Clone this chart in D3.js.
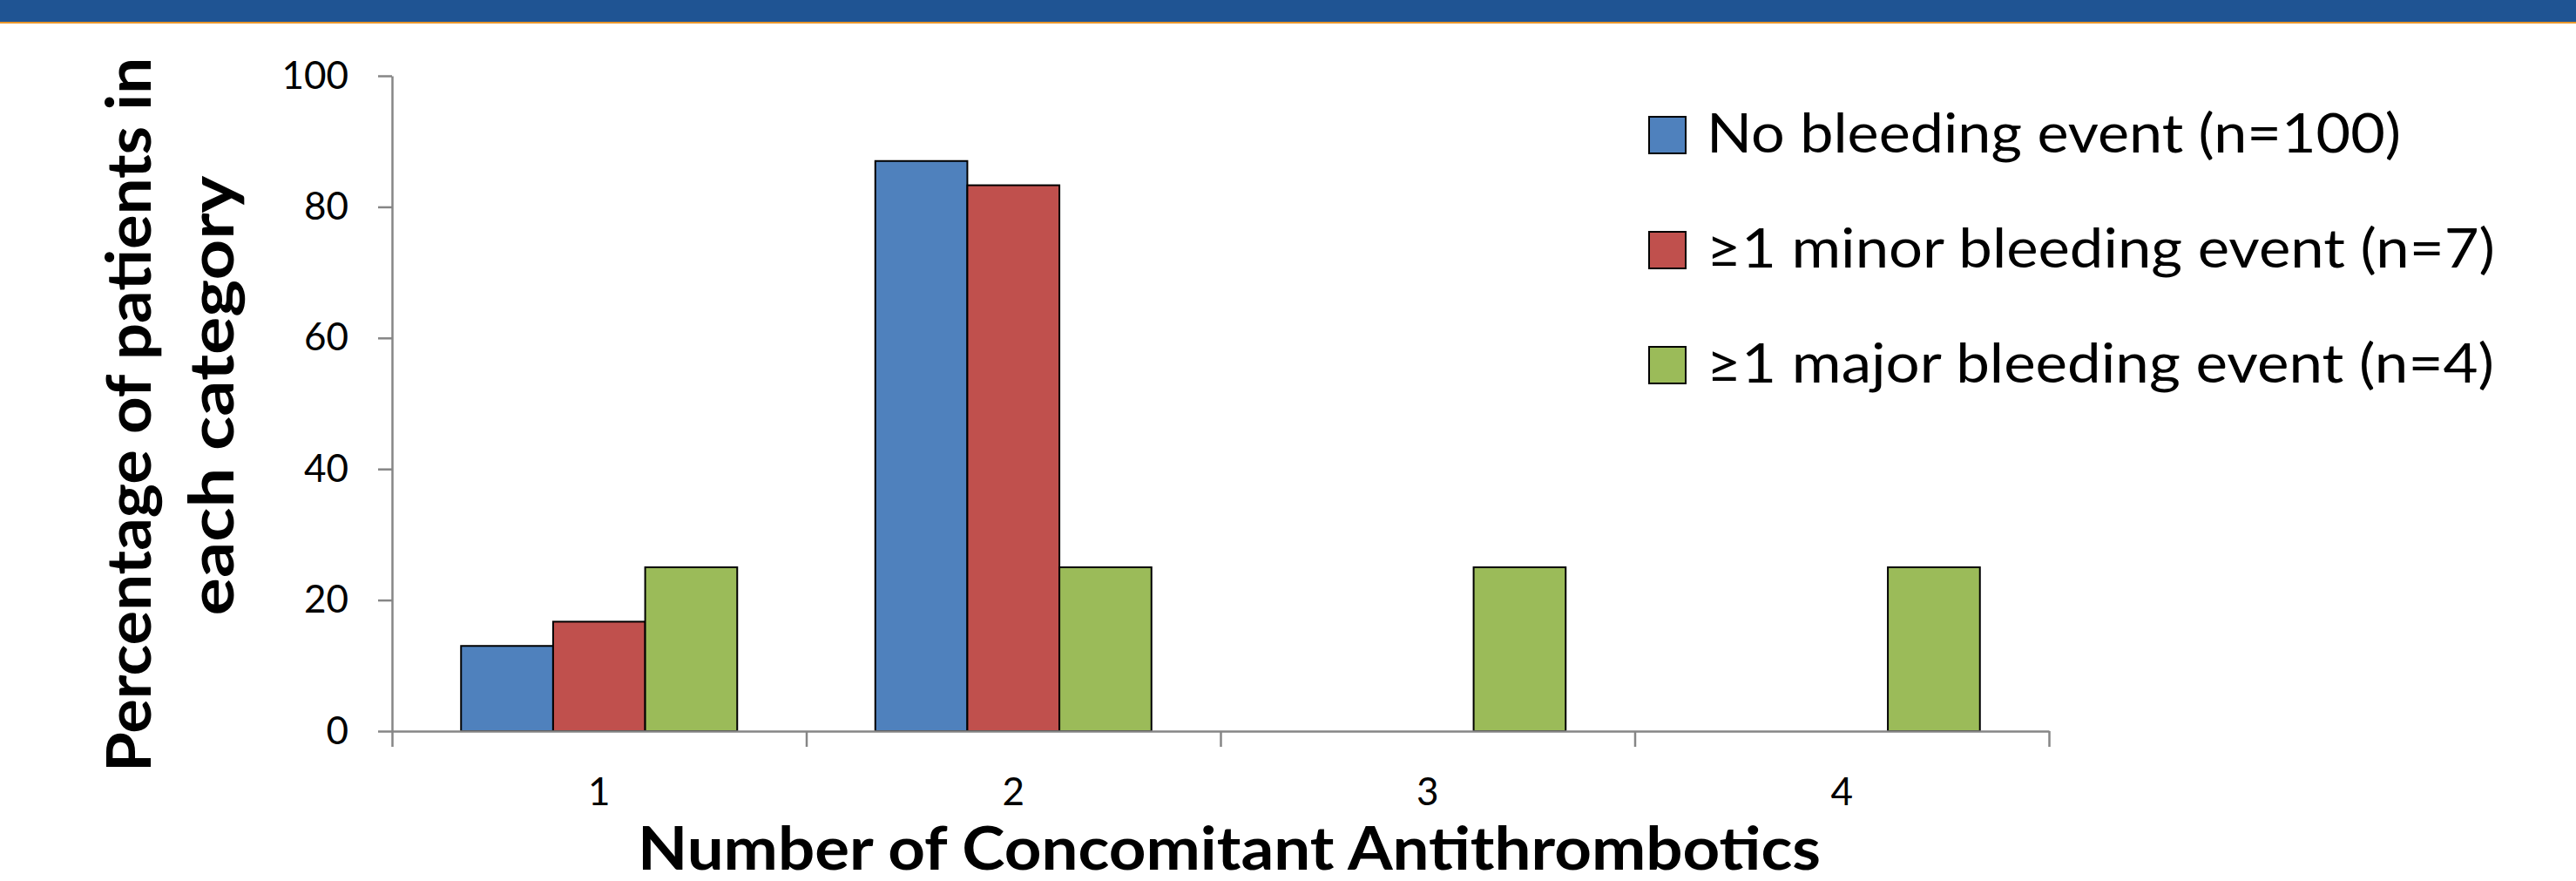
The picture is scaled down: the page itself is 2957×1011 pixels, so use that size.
<!DOCTYPE html>
<html>
<head>
<meta charset="utf-8">
<script src="https://cdn.jsdelivr.net/npm/d3@7"></script>
<style>
  body { margin: 0; background: #fff; }
  svg { display: block; }
  text { font-family: Lato, "Open Sans", sans-serif; fill: #000; }
</style>
</head>
<body>
<div id="chart"></div>
<script>
const width = 2957;
const height = 1011;

// Chart data
const categories = ["1", "2", "3", "4"];
const seriesNames = [
  "No bleeding event (n=100)",
  "\u22651 minor bleeding event (n=7)",
  "\u22651 major bleeding event (n=4)",
];
const noBleeding = [13, 87, 0, 0];
const minorBleeding = [16.7, 83.3, 0, 0];
const majorBleeding = [25, 25, 25, 25];
const yTicks = [0, 20, 40, 60, 80, 100];

const seriesValues = [noBleeding, minorBleeding, majorBleeding];
const colors = ["#4F81BD", "#C0504D", "#9BBB59"];
const axisColor = "#868686";

const plot = { left: 450, right: 2352, top: 87, bottom: 839 };

const svg = d3
  .select("#chart")
  .append("svg")
  .attr("width", width)
  .attr("height", height);

// Top banner (slide header)
svg.append("rect").attr("x", 0).attr("y", 0).attr("width", width).attr("height", 25).attr("fill", "#1F5493");
svg.append("rect").attr("x", 0).attr("y", 25).attr("width", width).attr("height", 2).attr("fill", "#E8962B");

// Scales
const x0 = d3
  .scaleBand()
  .domain(categories)
  .range([plot.left, plot.right])
  .paddingInner(0)
  .paddingOuter(0);

const x1 = d3
  .scaleBand()
  .domain(d3.range(seriesNames.length))
  .range([0, x0.bandwidth()])
  .paddingInner(0)
  .paddingOuter(0.75);

const y = d3.scaleLinear().domain([0, 100]).range([plot.bottom, plot.top]);

// Bars
const rows = categories.map((c, i) => ({
  cat: c,
  values: seriesValues.map((s, k) => ({ k, v: s[i] })),
}));

const groups = svg
  .selectAll(".group")
  .data(rows)
  .enter()
  .append("g")
  .attr("class", "group")
  .attr("transform", (d) => `translate(${x0(d.cat)},0)`);

groups
  .selectAll("rect")
  .data((d) => d.values.filter((e) => e.v > 0))
  .enter()
  .append("rect")
  .attr("x", (d) => x1(d.k))
  .attr("y", (d) => y(d.v))
  .attr("width", x1.bandwidth())
  .attr("height", (d) => y(0) - y(d.v))
  .attr("fill", (d) => colors[d.k])
  .attr("stroke", "#000")
  .attr("stroke-width", 2);

// Y axis
const yAxis = svg
  .append("g")
  .attr("transform", `translate(${plot.left},0)`)
  .call(d3.axisLeft(y).tickValues(yTicks).tickSize(16).tickPadding(34).tickSizeOuter(0));
yAxis.select(".domain").attr("stroke", axisColor).attr("stroke-width", 2.5);
yAxis.selectAll(".tick line").attr("stroke", axisColor).attr("stroke-width", 2.5);
yAxis.selectAll(".tick text").attr("font-size", 44).attr("font-family", "Lato").attr("fill", "#000");

// X axis: boundary ticks
const xb = d3.scaleLinear().domain([0, categories.length]).range([plot.left, plot.right]);
const xAxisTicks = svg
  .append("g")
  .attr("transform", `translate(0,${plot.bottom})`)
  .call(d3.axisBottom(xb).tickValues(d3.range(categories.length + 1)).tickSize(18).tickSizeOuter(0).tickFormat(""));
xAxisTicks.select(".domain").attr("stroke", axisColor).attr("stroke-width", 2.5);
xAxisTicks.selectAll(".tick line").attr("stroke", axisColor).attr("stroke-width", 2.5);

// X axis: category labels
const xAxisLabels = svg
  .append("g")
  .attr("transform", `translate(0,${plot.bottom})`)
  .call(d3.axisBottom(x0).tickSize(0));
xAxisLabels.select(".domain").remove();
xAxisLabels
  .selectAll(".tick text")
  .attr("y", 85)
  .attr("dy", null)
  .attr("font-size", 44)
  .attr("font-family", "Lato")
  .attr("fill", "#000");

// Axis titles
svg
  .append("text")
  .attr("x", 1411)
  .attr("y", 998)
  .attr("text-anchor", "middle")
  .attr("font-size", 68)
  .attr("font-weight", "bold")
  .attr("textLength", 1358)
  .attr("lengthAdjust", "spacingAndGlyphs")
  .text("Number of Concomitant Antithrombotics");

const yTitle = svg
  .append("text")
  .attr("transform", `translate(173,476) rotate(-90)`)
  .attr("text-anchor", "middle")
  .attr("font-size", 70)
  .attr("font-weight", "bold");
yTitle.append("tspan").attr("x", 0).attr("y", 0)
  .attr("textLength", 820).attr("lengthAdjust", "spacingAndGlyphs")
  .text("Percentage of patients in");
yTitle.append("tspan").attr("x", 22).attr("y", 95)
  .attr("textLength", 505).attr("lengthAdjust", "spacingAndGlyphs")
  .text("each category");

// Legend
const legendWidths = [797, 905, 904];
const legend = svg
  .append("g")
  .attr("transform", "translate(1893,134)");

const items = legend
  .selectAll(".item")
  .data(seriesNames)
  .enter()
  .append("g")
  .attr("class", "item")
  .attr("transform", (d, i) => `translate(0,${i * 132})`);

items
  .append("rect")
  .attr("width", 42)
  .attr("height", 42)
  .attr("fill", (d, i) => colors[i])
  .attr("stroke", "#000")
  .attr("stroke-width", 2);

items
  .append("text")
  .attr("x", 66)
  .attr("y", 41)
  .attr("font-size", 62)
  .attr("textLength", (d, i) => legendWidths[i])
  .attr("lengthAdjust", "spacingAndGlyphs")
  .text((d) => d);
</script>
</body>
</html>
